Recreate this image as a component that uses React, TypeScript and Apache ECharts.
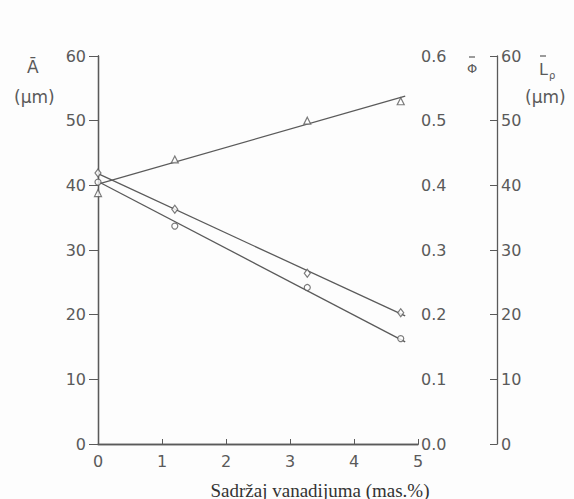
import React, { useEffect, useRef } from "react";
import * as echarts from "echarts";

const vanadium = [0, 1.2, 3.27, 4.73];
const triangleValues = [38.8, 44.0, 50.0, 53.0];
const diamondValues = [41.9, 36.3, 26.4, 20.3];
const circleValues = [40.5, 33.7, 24.2, 16.3];
const fitX = [0, 4.8];
const triangleFit = [40.2, 53.8];
const diamondFit = [41.8, 19.8];
const circleFit = [40.6, 15.8];

const INK = "#5a5a5a";
const FONT = "DejaVu Sans";

export default function App() {
  const ref = useRef<HTMLDivElement>(null);
  useEffect(() => {
    if (!ref.current) return;
    const chart = echarts.init(ref.current, undefined, { renderer: "svg" });
    const pts = (ys: number[]) => vanadium.map((x, i) => [x, ys[i]]);
    const fit = (ys: number[]) => fitX.map((x, i) => [x, ys[i]]);
    const axisLine = { show: true, lineStyle: { color: INK, width: 1.3 } };
    const labelStyle = { color: INK, fontFamily: FONT, fontSize: 16 };
    const markerStyle = { color: "#fff", borderColor: INK, borderWidth: 1.2 };
    const lineStyle = { color: INK, width: 1.3 };
    chart.setOption({
      animation: false,
      backgroundColor: "#fdfdfd",
      grid: { left: 98, right: 156, top: 56, bottom: 55 },
      xAxis: [
        {
          type: "value", min: 0, max: 5, interval: 1,
          axisLine, splitLine: { show: false },
          axisTick: { inside: true, length: 5, lineStyle: { color: INK } },
          axisLabel: { ...labelStyle, margin: 9 },
        },
        {
          type: "value", min: 0, max: 5, position: "top",
          axisLine, splitLine: { show: false },
          axisTick: { show: false }, axisLabel: { show: false },
        },
      ],
      yAxis: [
        {
          type: "value", min: 0, max: 60, interval: 10, position: "left",
          axisLine, splitLine: { show: false },
          axisTick: { inside: false, length: 9, lineStyle: { color: INK } },
          axisLabel: { ...labelStyle, margin: 12 },
        },
        {
          type: "value", min: 0, max: 0.6, interval: 0.1, position: "right",
          axisLine, splitLine: { show: false },
          axisTick: { inside: true, length: 7, lineStyle: { color: INK } },
          axisLabel: { ...labelStyle, margin: 3, formatter: (v: number) => v.toFixed(1) },
        },
        {
          type: "value", min: 0, max: 60, interval: 10, position: "right", offset: 79,
          axisLine, splitLine: { show: false },
          axisTick: { inside: true, length: 7, lineStyle: { color: INK } },
          axisLabel: { ...labelStyle, margin: 4 },
        },
      ],
      series: [
        { type: "line", data: fit(triangleFit), symbol: "none", lineStyle, z: 1 },
        { type: "line", data: fit(diamondFit), symbol: "none", lineStyle, z: 1 },
        { type: "line", data: fit(circleFit), symbol: "none", lineStyle, z: 1 },
        { type: "scatter", data: pts(triangleValues), symbol: "triangle", symbolSize: 7, itemStyle: markerStyle, z: 3 },
        { type: "scatter", data: pts(diamondValues), symbol: "diamond", symbolSize: [6, 8], itemStyle: markerStyle, z: 3 },
        { type: "scatter", data: pts(circleValues), symbol: "circle", symbolSize: 6, itemStyle: markerStyle, z: 3 },
      ],
      graphic: [
        { type: "text", left: 27, top: 58, style: { text: "Ā", fill: INK, font: `17px '${FONT}'` } },
        { type: "text", left: 14, top: 88, style: { text: "(μm)", fill: INK, font: `17px '${FONT}'` } },
        { type: "text", x: 472, y: 68, style: { text: "Φ", fill: INK, font: `13px '${FONT}'`, align: "center", verticalAlign: "middle" } },
        { type: "line", shape: { x1: 469, y1: 57, x2: 475, y2: 57 }, style: { stroke: INK, lineWidth: 1.2 } },
        { type: "text", left: 539, top: 61, style: { text: "L", fill: INK, font: `16px '${FONT}'` } },
        { type: "line", shape: { x1: 540, y1: 56, x2: 546, y2: 56 }, style: { stroke: INK, lineWidth: 1.2 } },
        { type: "text", left: 549, top: 70, style: { text: "ρ", fill: INK, font: `10px '${FONT}'` } },
        { type: "text", left: 525, top: 88, style: { text: "(μm)", fill: INK, font: `17px '${FONT}'` } },
        { type: "text", x: 320, y: 490, style: { text: "Sadržaj vanadijuma (mas.%)", fill: "#333", font: "19px 'Liberation Serif'", align: "center", verticalAlign: "middle" } },
      ],
    });
    return () => chart.dispose();
  }, []);
  return (
    <div style={{ position: "absolute", left: 0, top: 0 }}>
      <div ref={ref} style={{ width: 574, height: 499 }} />
    </div>
  );
}
